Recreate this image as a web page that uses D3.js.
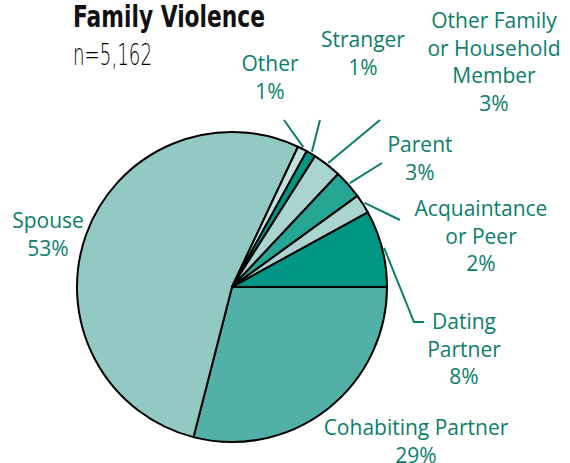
<!DOCTYPE html>
<html lang="en">
  <head>
    <meta charset="UTF-8" />
    <title>Family Violence</title>
    <style type="text/css">
      body { margin: 0; background: #fff; }
      .lbl { font-family: 'Open Sans', Lato, sans-serif; font-size: 21px; fill: #0b7e6b; }
    </style>
  </head>
  <script src="https://d3js.org/d3.v7.min.js"></script>
  <body>
    <div class="d3Chart"></div>
  </body>
  <script type="text/javascript">
    // 数据
    var categories = ['Cohabiting Partner', 'Spouse', 'Other', 'Stranger', 'Other Family or Household Member', 'Parent', 'Acquaintance or Peer', 'Dating Partner']
    var values = [29, 53, 1, 1, 3, 3, 2, 8]
    var labelLines = [
      ['Cohabiting Partner'],
      ['Spouse'],
      ['Other'],
      ['Stranger'],
      ['Other Family', 'or Household', 'Member'],
      ['Parent'],
      ['Acquaintance', 'or Peer'],
      ['Dating', 'Partner']
    ]
    var colors = ['#52b1a6', '#93c9c3', '#c2e2de', '#009685', '#a9d4cf', '#26a595', '#a9d4cf', '#009685']

    var width = 570
    var height = 463
    var cx = 232
    var cy = 287
    var radius = 155

    // label placement: center x, first baseline y, leader line end [x, y] (+ optional elbow)
    var labelPos = [
      { x: 416, y: 435, line: null },
      { x: 48, y: 228, line: null },
      { x: 270, y: 71, line: [[284, 120]] },
      { x: 363, y: 47, line: [[320, 120]] },
      { x: 494, y: 28, line: [[380, 120]] },
      { x: 420, y: 152, line: [[382, 163]] },
      { x: 481, y: 216, line: [[400, 220]] },
      { x: 464, y: 329, line: [[414, 322], [424, 322]] }
    ]
    var lineH = 27.5

    var svg = d3
      .select('.d3Chart')
      .append('svg')
      .attr('width', width)
      .attr('height', height)

    // 标题
    svg
      .append('text')
      .attr('x', 73)
      .attr('y', 27)
      .attr('textLength', 192)
      .attr('lengthAdjust', 'spacingAndGlyphs')
      .style('font-family', "'DejaVu Sans', sans-serif")
      .style('font-weight', 'bold')
      .style('font-size', '30px')
      .attr('fill', '#111')
      .text('Family Violence')
    svg
      .append('text')
      .attr('x', 73)
      .attr('y', 65)
      .attr('textLength', 79)
      .attr('lengthAdjust', 'spacingAndGlyphs')
      .style('font-family', "'DejaVu Sans', sans-serif")
      .style('font-weight', 300)
      .style('font-size', '30px')
      .attr('fill', '#000')
      .text('n=5,162')

    var pie = d3
      .pie()
      .value((d) => d)
      .sort(null)
      .startAngle(Math.PI / 2)
      .endAngle(Math.PI / 2 + Math.PI * 2)
    var arcsData = pie(values)

    var arc = d3.arc().innerRadius(0).outerRadius(radius)
    var edge = d3.arc().innerRadius(radius + 2).outerRadius(radius + 2)

    var g = svg.append('g').attr('transform', 'translate(' + cx + ',' + cy + ')')

    g.selectAll('path.slice')
      .data(arcsData)
      .enter()
      .append('path')
      .attr('class', 'slice')
      .attr('d', arc)
      .attr('fill', (d, i) => colors[i])
      .attr('stroke', '#000')
      .attr('stroke-width', 2)
      .attr('stroke-linejoin', 'round')

    // 连线
    var lineGen = d3.line()
    arcsData.forEach(function (d, i) {
      var lp = labelPos[i]
      if (!lp.line) return
      var start = edge.centroid(d)
      var pts = [[start[0] + cx, start[1] + cy]].concat(lp.line)
      svg
        .append('path')
        .attr('d', lineGen(pts))
        .attr('fill', 'none')
        .attr('stroke', '#0b7e6b')
        .attr('stroke-width', 2)
    })

    // 文本
    arcsData.forEach(function (d, i) {
      var lp = labelPos[i]
      var lines = labelLines[i].concat([values[i] + '%'])
      var t = svg.append('text').attr('class', 'lbl').attr('text-anchor', 'middle')
      lines.forEach(function (s, k) {
        t.append('tspan')
          .attr('x', lp.x)
          .attr('y', lp.y + k * lineH)
          .text(s)
      })
    })
  </script>
</html>
